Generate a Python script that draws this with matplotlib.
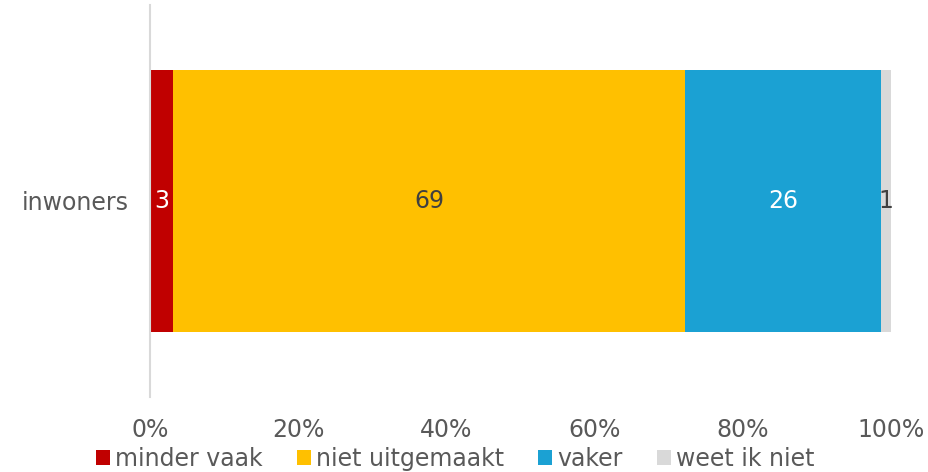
import matplotlib.pyplot as plt

# data
categories = ["inwoners"]
series = ["minder vaak", "niet uitgemaakt", "vaker", "weet ik niet"]
values = [3.1, 69.1, 26.5, 1.3]
labels = ["3", "69", "26", "1"]
colors = ["#c00000", "#ffc000", "#1ba1d3", "#d9d9d9"]
label_colors = ["white", "#404040", "white", "#404040"]

fig = plt.figure(figsize=(9.29, 4.72), dpi=100)
ax = fig.add_axes([150 / 929, 75 / 472, 741 / 929, 392 / 472])

left = 0
for name, v, lab, c, lc in zip(series, values, labels, colors, label_colors):
    ax.barh(categories, [v], left=left, height=0.67, color=c, label=name)
    ax.text(left + v / 2, 0, lab, ha="center", va="center", color=lc, fontsize=17)
    left += v

ax.set_xlim(0, 100)
ax.set_ylim(-0.5, 0.5)
ax.set_xticks([0, 20, 40, 60, 80, 100])
ax.set_xticklabels(["0%", "20%", "40%", "60%", "80%", "100%"])
ax.tick_params(axis="both", length=0, labelsize=17, colors="#595959")
ax.tick_params(axis="x", pad=15)
ax.tick_params(axis="y", pad=15)
for s in ["top", "right", "bottom"]:
    ax.spines[s].set_visible(False)
ax.spines["left"].set_color("#d9d9d9")
ax.spines["left"].set_linewidth(1.5)

leg = fig.legend(loc="lower center", bbox_to_anchor=(0.49, -0.043), ncol=4, frameon=False,
                 fontsize=17, handlelength=0.6, handleheight=0.6, handletextpad=0.2,
                 columnspacing=1.45, labelcolor="#595959")

fig.savefig("out.png", dpi=100)
